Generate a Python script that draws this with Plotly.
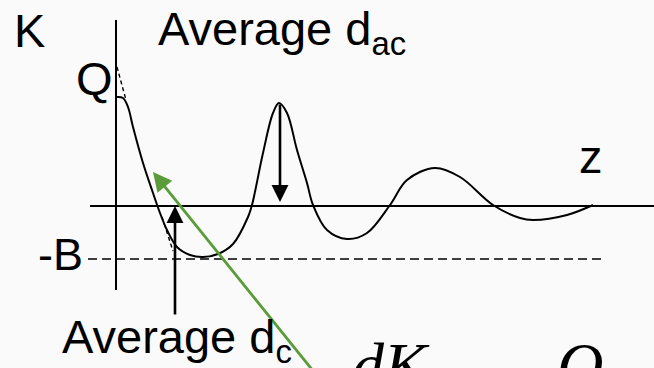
import plotly.graph_objects as go

# Diagram coordinates: z along the horizontal axis, K up the vertical axis.
Z_MIN, Z_MAX = -116, 538
K_MIN, K_MAX = -162, 206

# Force profile K(z): steep repulsive wall, deep first well, then damped oscillation
curve_z = [1, 7, 12, 17, 27, 37, 44, 51, 61, 74, 87, 102, 117, 132, 136,
           147, 157, 163, 171, 181, 191, 197, 211, 231, 251, 274, 291, 319,
           344, 377, 404, 417, 451, 477]
curve_K = [109, 108, 99, 79, 43, 13, -7, -24, -41, -49, -51, -48, -38, -11, 1,
           53, 93, 103, 93, 56, 23, 1, -24, -33, -27, 1, 26, 38,
           29, 1, -12, -14, -9, 1]

Q_LEVEL = 139      # intercept of the initial tangent on the K axis
B_LEVEL = -53      # depth of the adhesive well (-B)

# Axis extents
k_axis_z = [0, 0]
k_axis_K = [-84, 186]
z_axis_z = [-26, 538]
z_axis_K = [0, 0]

# -B reference line
b_line_z = [-28, 487]

# Dashed tangent pieces where the straight line leaves the curve
tangent_top_z = [1, 10]
tangent_top_K = [Q_LEVEL, 106]
tangent_bot_z = [46, 57]
tangent_bot_K = [-11, -45]

# Arrows: (tail_z, tail_K, tip_z, tip_K)
arrow_dc = (59, -110, 59, 0)
arrow_dac = (164, 103, 164, 4)
arrow_slope = (198, -166, 37, 34)

SANS = "Liberation Sans, Arial, sans-serif"
SERIF = "Liberation Serif, Times New Roman, serif"
INK = "#000000"
GREEN = "#5a9c3a"

fig = go.Figure()

def line(zs, ks, width=2, dash="solid", shape="linear"):
    fig.add_trace(go.Scatter(
        x=zs, y=ks, mode="lines", hoverinfo="skip", showlegend=False,
        line=dict(color=INK, width=width, dash=dash, shape=shape, smoothing=1.0),
    ))

line(k_axis_z, k_axis_K, width=2)
line(z_axis_z, z_axis_K, width=2)
line(b_line_z, [B_LEVEL, B_LEVEL], width=1.6, dash="9px,5px")
line(tangent_top_z, tangent_top_K, width=1.4, dash="4px,3px")
line(tangent_bot_z, tangent_bot_K, width=1.4, dash="4px,3px")
line(curve_z, curve_K, width=2, shape="spline")

def arrow(spec, color, width, size):
    tz, tk, hz, hk = spec
    fig.add_annotation(
        x=hz, y=hk, ax=tz, ay=tk, xref="x", yref="y", axref="x", ayref="y",
        text="", showarrow=True, arrowhead=2, arrowsize=size,
        arrowwidth=width, arrowcolor=color, standoff=0, startstandoff=0,
    )

arrow(arrow_dc, INK, 2.6, 1.3)
arrow(arrow_dac, INK, 2.6, 1.3)
arrow(arrow_slope, GREEN, 2.8, 1.35)

def label(text, px, py, size=47, family=SANS):
    fig.add_annotation(
        x=px / 654, y=1 - py / 368, xref="paper", yref="paper",
        xanchor="left", yanchor="top", showarrow=False, text=text,
        font=dict(family=family, size=size, color=INK),
    )

label("K", 12, 2)
label("Average d<sub>ac</sub>", 156, 0)
label("Q", 74, 50)
label("z", 577, 128)
label("-B", 36, 227, size=45)
label("Average d<sub>c</sub>", 60, 308)
label("<i>dK</i>", 350, 328, size=64, family=SERIF)
label("<i>Q</i>", 555, 328, size=64, family=SERIF)

fig.update_layout(
    width=654, height=368,
    margin=dict(l=0, r=0, t=0, b=0, pad=0),
    paper_bgcolor="#fafafa", plot_bgcolor="#fafafa",
    xaxis=dict(range=[Z_MIN, Z_MAX], visible=False, fixedrange=True),
    yaxis=dict(range=[K_MIN, K_MAX], visible=False, fixedrange=True),
)

fig.write_html("out.html")
